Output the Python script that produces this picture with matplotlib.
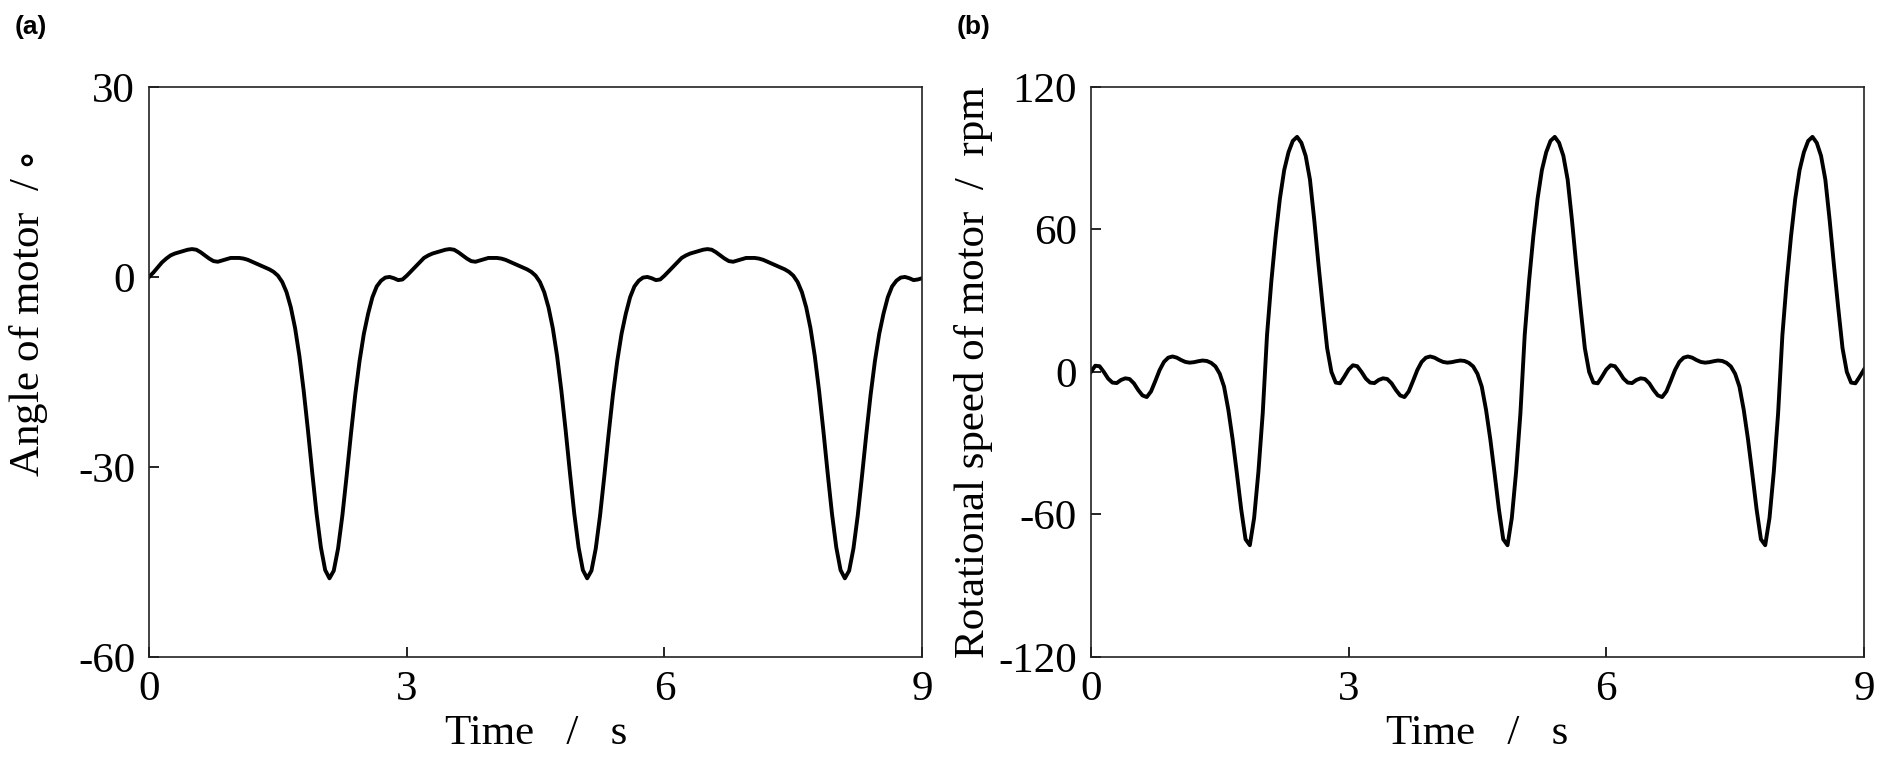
import matplotlib
matplotlib.use("Agg")
import matplotlib.pyplot as plt
import numpy as np

plt.rcParams["font.family"] = ["Liberation Serif", "DejaVu Serif"]
plt.rcParams["mathtext.fontset"] = "stix"
plt.rcParams["axes.unicode_minus"] = False

# sampling grid of the curves, s
time_s = np.round(np.arange(0, 9.0001, 0.05), 2)

# angle of motor, degrees (one list per 3 s cycle)
angle_0_3 = [0.0, 0.7, 1.5, 2.3, 2.9, 3.4, 3.7, 3.9, 4.1, 4.3,
             4.4, 4.3, 3.9, 3.4, 2.9, 2.5, 2.4, 2.6, 2.8, 3.0,
             3.0, 3.0, 2.9, 2.7, 2.4, 2.1, 1.8, 1.5, 1.2, 0.8,
             0.2, -0.8, -2.4, -4.8, -8.1, -12.5, -18.0, -24.3, -31.0, -37.4,
             -42.7, -46.3, -47.6, -46.4, -42.9, -37.7, -31.4, -24.8, -18.6, -13.3,
             -9.0, -5.8, -3.2, -1.5, -0.6, -0.1, 0.0, -0.2, -0.5, -0.4]
angle_3_6 = [0.2, 0.9, 1.6, 2.3, 3.0, 3.4, 3.7, 3.9, 4.1, 4.3,
             4.4, 4.3, 3.9, 3.4, 2.9, 2.5, 2.4, 2.6, 2.8, 3.0,
             3.0, 3.0, 2.9, 2.7, 2.4, 2.1, 1.8, 1.5, 1.2, 0.8,
             0.2, -0.8, -2.4, -4.8, -8.1, -12.5, -18.0, -24.3, -31.0, -37.4,
             -42.7, -46.3, -47.6, -46.4, -42.9, -37.7, -31.4, -24.8, -18.6, -13.3,
             -9.0, -5.8, -3.2, -1.5, -0.6, -0.1, 0.0, -0.2, -0.5, -0.4]
angle_6_9 = [0.2, 0.9, 1.6, 2.3, 3.0, 3.4, 3.7, 3.9, 4.1, 4.3,
             4.4, 4.3, 3.9, 3.4, 2.9, 2.5, 2.4, 2.6, 2.8, 3.0,
             3.0, 3.0, 2.9, 2.7, 2.4, 2.1, 1.8, 1.5, 1.2, 0.8,
             0.2, -0.8, -2.4, -4.8, -8.1, -12.5, -18.0, -24.3, -31.0, -37.4,
             -42.7, -46.3, -47.6, -46.4, -42.9, -37.7, -31.4, -24.8, -18.6, -13.3,
             -9.0, -5.8, -3.2, -1.5, -0.6, -0.1, 0.0, -0.2, -0.5, -0.4,
             -0.2]

# rotational speed of motor, rpm
speed_0_3 = [0.0, 2.6, 2.4, 0.0, -2.8, -4.5, -4.7, -3.4, -2.7, -3.0,
             -4.8, -7.6, -9.9, -10.6, -8.2, -3.8, 0.8, 4.2, 6.0, 6.5,
             6.0, 5.0, 4.2, 3.9, 4.1, 4.5, 4.8, 4.6, 3.8, 2.3,
             -0.8, -6.2, -16.0, -28.5, -43.0, -58.0, -70.5, -73.0, -61.5, -42.0,
             -17.5, 15.5, 38.0, 57.0, 73.0, 85.0, 92.5, 97.3, 99.0, 96.5,
             91.0, 81.0, 64.0, 45.0, 27.0, 10.0, 0.0, -4.5, -4.8, -2.0]
speed_3_6 = [1.0, 2.8, 2.4, 0.0, -2.8, -4.5, -4.7, -3.4, -2.7, -3.0,
             -4.8, -7.6, -9.9, -10.6, -8.2, -3.8, 0.8, 4.2, 6.0, 6.5,
             6.0, 5.0, 4.2, 3.9, 4.1, 4.5, 4.8, 4.6, 3.8, 2.3,
             -0.8, -6.2, -16.0, -28.5, -43.0, -58.0, -70.5, -73.0, -61.5, -42.0,
             -17.5, 15.5, 38.0, 57.0, 73.0, 85.0, 92.5, 97.3, 99.0, 96.5,
             91.0, 81.0, 64.0, 45.0, 27.0, 10.0, 0.0, -4.5, -4.8, -2.0]
speed_6_9 = [1.0, 2.8, 2.4, 0.0, -2.8, -4.5, -4.7, -3.4, -2.7, -3.0,
             -4.8, -7.6, -9.9, -10.6, -8.2, -3.8, 0.8, 4.2, 6.0, 6.5,
             6.0, 5.0, 4.2, 3.9, 4.1, 4.5, 4.8, 4.6, 3.8, 2.3,
             -0.8, -6.2, -16.0, -28.5, -43.0, -58.0, -70.5, -73.0, -61.5, -42.0,
             -17.5, 15.5, 38.0, 57.0, 73.0, 85.0, 92.5, 97.3, 99.0, 96.5,
             91.0, 81.0, 64.0, 45.0, 27.0, 10.0, 0.0, -4.5, -4.8, -2.0,
             1.0]

angle_deg = angle_0_3 + angle_3_6 + angle_6_9
speed_rpm = speed_0_3 + speed_3_6 + speed_6_9

x_ticks = [0, 3, 6, 9]
angle_ticks = [-60, -30, 0, 30]
speed_ticks = [-120, -60, 0, 60, 120]

FS = 31

fig = plt.figure(figsize=(18.92, 7.70), dpi=100)
ax_a = fig.add_axes([0.0788, 0.147, 0.4086, 0.740])
ax_b = fig.add_axes([0.5766, 0.147, 0.4086, 0.740])

def style_axis(ax, yticks, ylabel):
    ax.set_xlim(0, 9)
    ax.set_ylim(yticks[0], yticks[-1])
    ax.set_xticks(x_ticks)
    ax.set_yticks(yticks)
    ax.tick_params(direction="in", length=7, width=1.2, labelsize=FS, pad=10,
                   top=False, right=False)
    for sp in ax.spines.values():
        sp.set_linewidth(1.2)
        sp.set_color("#222222")
    ax.set_xlabel("Time   /   s", fontsize=FS, labelpad=4)
    ax.set_ylabel(ylabel, fontsize=FS)

ax_a.plot(time_s, angle_deg, color="black", lw=2.8, solid_joinstyle="round")
style_axis(ax_a, angle_ticks, r"Angle of motor  / $\circ$")
ax_a.yaxis.set_label_coords(-0.128, 0.60)

ax_b.plot(time_s, speed_rpm, color="black", lw=2.8, solid_joinstyle="round")
style_axis(ax_b, speed_ticks, "Rotational speed of motor  /  rpm")
ax_b.yaxis.set_label_coords(-0.127, 0.5)

fig.text(15 / 1892, 1 - 27 / 770, "(a)", fontsize=19, fontweight="bold",
         family="Liberation Sans", va="center")
fig.text(957 / 1892, 1 - 27 / 770, "(b)", fontsize=19, fontweight="bold",
         family="Liberation Sans", va="center")

fig.savefig("out.png", dpi=100)
